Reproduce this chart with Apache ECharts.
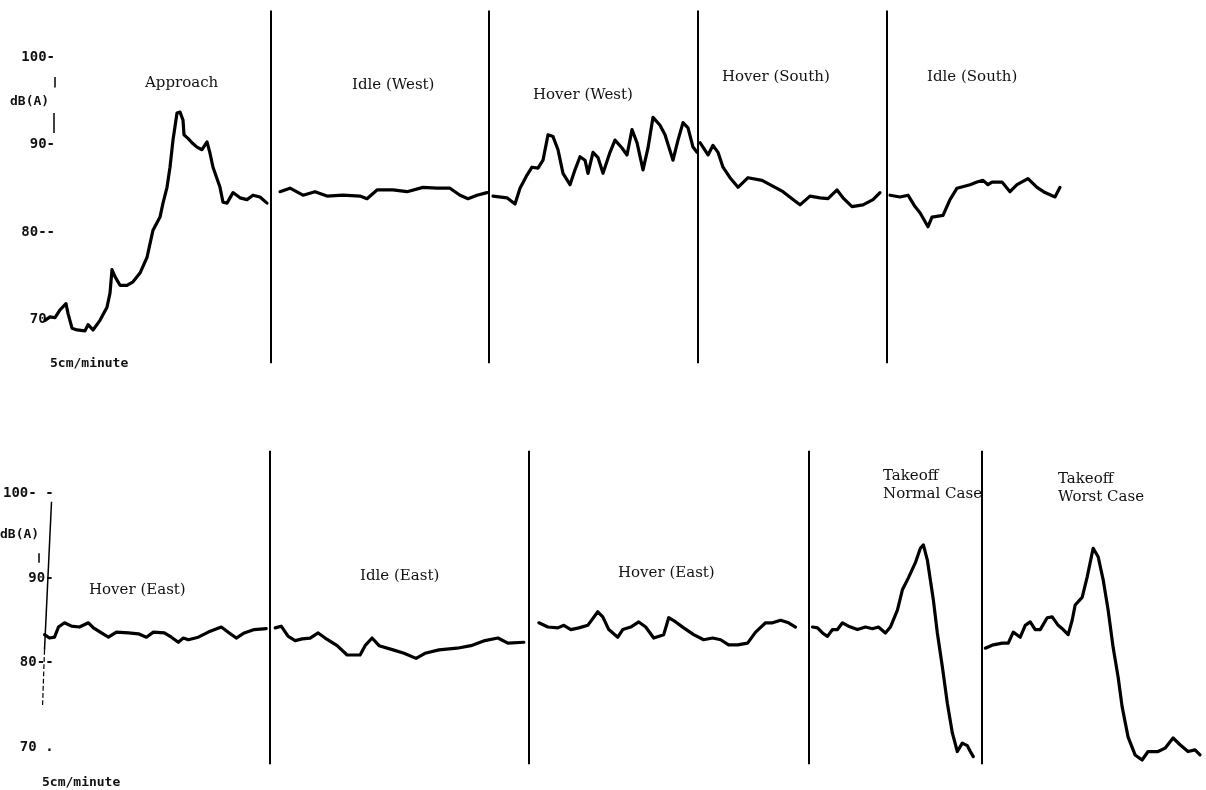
<!DOCTYPE html>
<html><head><meta charset="utf-8">
<script src="https://cdn.jsdelivr.net/npm/echarts@6/dist/echarts.min.js"></script>
<style>html,body{margin:0;padding:0;background:#fff}#c{width:1206px;height:790px}</style>
</head><body><div id="c"></div>
<script>
// ---- data (x = position along the strip chart, y = dB(A)) ----
const yTicks = [70, 80, 90, 100];
const topTickText = {100: '100-', 90: '90-', 80: '80--', 70: '70 '};
const bottomTickText = {100: '100- -', 90: '90-', 80: '80--', 70: '70 .'};
const topDividers = [271, 489, 698, 887];
const bottomDividers = [269, 528, 808, 981];

const approach = [[45,69.9],[50,70.3],[55,70.2],[60,71.1],[66,71.8],[68,70.7],[72,69.0],[77,68.8],[85,68.7],[88,69.4],[93,68.8],[100,69.9],[107,71.4],[110,73.0],[112,75.7],[115,74.9],[120,73.9],[127,73.9],[133,74.3],[140,75.3],[147,77.1],[153,80.2],[160,81.7],[163,83.3],[167,85.1],[170,87.4],[173,90.5],[177,93.6],[180,93.7],[183,92.8],[184,91.1],[188,90.7],[192,90.2],[197,89.7],[202,89.4],[207,90.3],[210,89.0],[213,87.4],[220,85.1],[223,83.4],[227,83.3],[233,84.5],[240,83.9],[247,83.7],[253,84.2],[260,84.0],[267,83.3]];
const idleWest = [[280,84.6],[290,85.0],[303,84.2],[315,84.6],[327,84.1],[343,84.2],[360,84.1],[367,83.8],[377,84.8],[393,84.8],[407,84.6],[423,85.1],[437,85.0],[450,85.0],[460,84.2],[468,83.8],[477,84.2],[487,84.5]];
const hoverWest = [[493,84.1],[507,83.9],[515,83.2],[520,85.0],[527,86.5],[532,87.4],[538,87.3],[543,88.2],[548,91.1],[553,90.9],[558,89.4],[563,86.7],[570,85.4],[575,87.1],[580,88.6],[585,88.2],[588,86.7],[593,89.1],[598,88.5],[603,86.7],[610,89.1],[615,90.5],[622,89.6],[627,88.8],[632,91.7],[637,90.2],[643,87.1],[648,89.6],[653,93.1],[660,92.2],[665,91.1],[673,88.2],[678,90.5],[683,92.5],[688,91.9],[693,89.7],[697,89.1]];
const hoverSouth = [[700,90.2],[703,89.7],[708,88.8],[713,89.9],[718,89.1],[723,87.4],[730,86.2],[738,85.1],[748,86.2],[762,85.9],[770,85.4],[783,84.6],[793,83.7],[800,83.1],[810,84.1],[820,83.9],[828,83.8],[837,84.8],[843,83.9],[852,82.9],[863,83.1],[873,83.7],[880,84.5]];
const idleSouth = [[890,84.2],[900,84.0],[908,84.2],[915,82.9],[920,82.2],[928,80.6],[932,81.7],[943,81.9],[950,83.7],[957,85.0],[970,85.4],[977,85.7],[983,85.9],[988,85.4],[992,85.7],[1002,85.7],[1010,84.6],[1017,85.4],[1028,86.1],[1037,85.1],[1045,84.5],[1055,84.0],[1060,85.1]];

const hoverEastA = [[43,83.3],[48,82.9],[53,83.0],[57,84.2],[63,84.7],[70,84.3],[78,84.2],[87,84.7],[92,84.1],[100,83.5],[107,83.0],[115,83.6],[127,83.5],[137,83.4],[145,83.0],[152,83.6],[163,83.5],[170,83.0],[177,82.4],[182,82.9],[187,82.7],[197,83.0],[207,83.6],[220,84.2],[228,83.5],[235,82.9],[243,83.5],[253,83.9],[265,84.0]];
const idleEast = [[274,84.1],[280,84.3],[287,83.1],[294,82.6],[301,82.8],[309,82.9],[317,83.5],[324,82.9],[336,82.0],[346,80.9],[359,80.9],[364,82.0],[371,82.9],[378,82.0],[392,81.5],[403,81.1],[415,80.5],[424,81.1],[438,81.5],[456,81.7],[470,82.0],[484,82.6],[497,82.9],[507,82.3],[523,82.4]];
const hoverEastB = [[538,84.7],[547,84.2],[557,84.1],[563,84.4],[570,83.9],[578,84.1],[587,84.4],[597,86.0],[602,85.4],[608,83.9],[617,83.0],[622,83.9],[630,84.2],[638,84.8],[645,84.2],[653,82.9],[663,83.3],[668,85.3],[675,84.8],[683,84.1],[693,83.3],[703,82.7],[712,82.9],[720,82.7],[728,82.1],[737,82.1],[747,82.3],[755,83.6],[765,84.7],[772,84.7],[780,85.0],[788,84.7],[795,84.2]];
const takeoffNormal = [[812,84.2],[817,84.1],[822,83.5],[827,83.1],[832,83.9],[837,83.9],[842,84.7],[848,84.3],[857,83.9],[865,84.2],[872,84.0],[878,84.2],[885,83.5],[890,84.2],[897,86.2],[902,88.6],[908,90.0],[915,91.8],[920,93.5],[923,93.9],[927,92.1],[933,87.4],[937,83.5],[942,79.5],[947,75.2],[952,71.7],[957,69.5],[962,70.5],[967,70.2],[970,69.5],[973,68.9]];
const takeoffWorst = [[985,81.7],[993,82.1],[1002,82.3],[1008,82.3],[1013,83.6],[1020,83.0],[1025,84.4],[1030,84.8],[1035,83.9],[1040,83.9],[1047,85.3],[1052,85.4],[1058,84.4],[1063,83.9],[1068,83.3],[1072,85.0],[1075,86.8],[1082,87.7],[1087,90.1],[1093,93.5],[1098,92.5],[1103,89.8],[1108,86.2],[1113,81.8],[1118,78.3],[1122,74.8],[1128,71.2],[1135,69.1],[1142,68.5],[1148,69.5],[1158,69.5],[1165,69.9],[1173,71.1],[1180,70.3],[1188,69.5],[1195,69.7],[1200,69.1]];

// ---- chart ----
const chart = echarts.init(document.getElementById('c'), null, {renderer: 'canvas'});
const INK = '#000';
const curve = {lineStyle: {color: INK, width: 3.2, join: 'round', cap: 'round'}};
function seg(data, gi, extra) {
  return Object.assign({type: 'line', xAxisIndex: gi, yAxisIndex: gi, data: data,
    showSymbol: false, symbol: 'none', silent: true, z: 3}, curve, extra || {});
}
function dividers(xs) {
  return {silent: true, symbol: ['none', 'none'], label: {show: false},
    lineStyle: {color: INK, width: 2, type: 'solid'},
    data: xs.map(x => ({xAxis: x}))};
}
const tickLabel = (map, margin) => ({
  customValues: yTicks, formatter: v => map[v] || '', color: '#111',
  fontFamily: 'DejaVu Sans Mono', fontWeight: 'bold', fontSize: 14, margin: margin
});
const segFont = '15px "DejaVu Serif"';
const markFont = 'bold 13px "DejaVu Sans Mono"';
function txt(s, left, top, font) {
  return {type: 'text', left: left, top: top, silent: true,
    style: {text: s, font: font || segFont, fill: '#111', lineHeight: 18}};
}

chart.setOption({
  animation: false,
  backgroundColor: '#fff',
  grid: [
    {left: 0, width: 1206, top: 10.6, height: 352.6},
    {left: 0, width: 1206, top: 450.85, height: 313.39}
  ],
  xAxis: [
    {type: 'value', gridIndex: 0, min: 0, max: 1206, show: false},
    {type: 'value', gridIndex: 1, min: 0, max: 1206, show: false}
  ],
  yAxis: [
    {type: 'value', gridIndex: 0, min: 65, max: 105.3, offset: -56,
      axisLine: {show: false}, axisTick: {show: false}, splitLine: {show: false},
      axisLabel: tickLabel(topTickText, 1)},
    {type: 'value', gridIndex: 1, min: 68, max: 105, offset: -53,
      axisLine: {show: false}, axisTick: {show: false}, splitLine: {show: false},
      axisLabel: tickLabel(bottomTickText, 1)}
  ],
  series: [
    seg(approach, 0, {markLine: dividers(topDividers)}),
    seg(idleWest, 0, {markLine: {silent: true, symbol: ['none','none'], label: {show: false},
      lineStyle: {color: INK, width: 1.5, type: 'solid'},
      data: [[{coord: [55, 97.7]}, {coord: [55, 96.5]}], [{coord: [54, 93.6]}, {coord: [54, 91.3]}]]}}),
    seg(hoverWest, 0),
    seg(hoverSouth, 0),
    seg(idleSouth, 0),
    seg(hoverEastA, 1, {markLine: dividers(bottomDividers)}),
    seg(idleEast, 1, {markLine: {silent: true, symbol: ['none','none'], label: {show: false},
      lineStyle: {color: INK, width: 1.5, type: 'solid'},
      data: [[{coord: [50, 99.0]}, {coord: [43, 81.5]}],
             [{coord: [43, 81.5], lineStyle: {type: 'dashed', width: 1.2}}, {coord: [41, 74.8]}],
             [{coord: [37, 92.9]}, {coord: [37, 91.8]}]]}}),
    seg(hoverEastB, 1),
    seg(takeoffNormal, 1),
    seg(takeoffWorst, 1)
  ],
  graphic: [
    txt('dB(A)', 10, 93, markFont),
    txt('5cm/minute', 50, 355, markFont),
    txt('dB(A)', 0, 526, markFont),
    txt('5cm/minute', 42, 774, markFont),
    txt('Approach', 145, 74),
    txt('Idle (West)', 352, 76),
    txt('Hover (West)', 533, 86),
    txt('Hover (South)', 722, 68),
    txt('Idle (South)', 927, 68),
    txt('Hover (East)', 89, 581),
    txt('Idle (East)', 360, 567),
    txt('Hover (East)', 618, 564),
    txt('Takeoff\nNormal Case', 883, 467),
    txt('Takeoff\nWorst Case', 1058, 470)
  ]
});
</script>
</body></html>
